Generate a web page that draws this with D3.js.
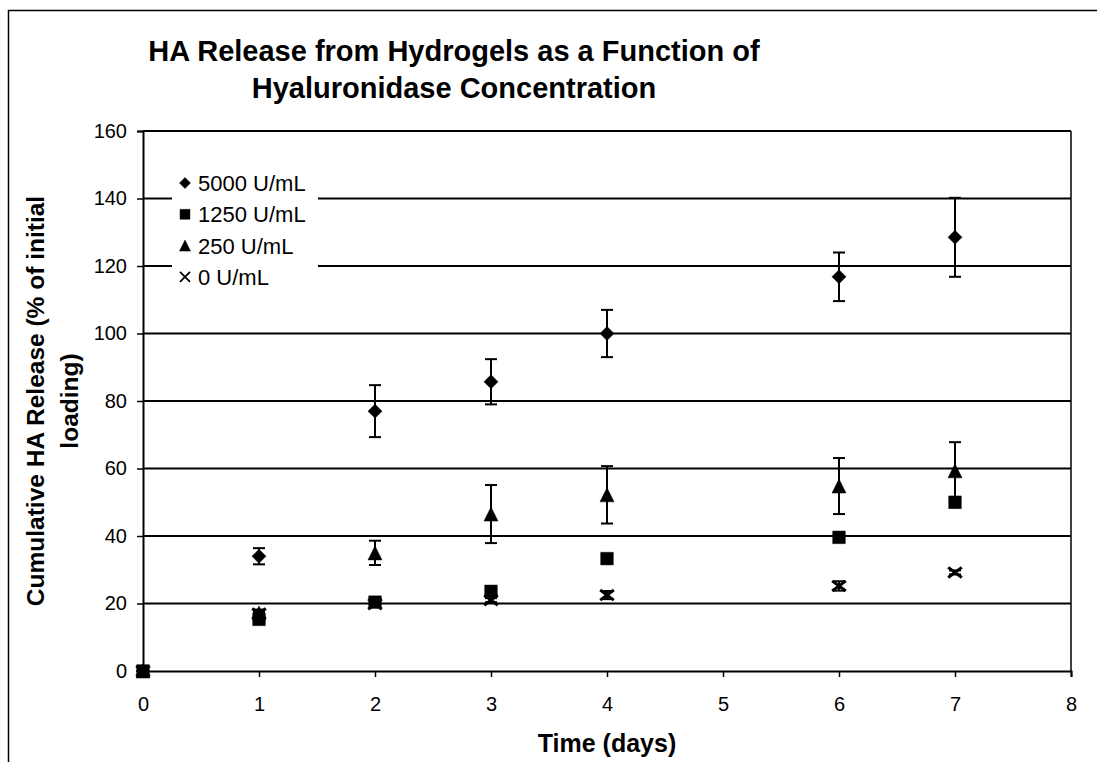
<!DOCTYPE html>
<html>
<head>
<meta charset="utf-8">
<script src="https://cdn.jsdelivr.net/npm/d3@7"></script>
<style>
  html, body { margin: 0; padding: 0; background: #fff; }
  svg { display: block; font-family: "Liberation Sans", Arial, sans-serif; }
</style>
</head>
<body>
<div id="chart"></div>
<script>
const days = [0, 1, 2, 3, 4, 6, 7]

const seriesNames = ["5000 U/mL", "1250 U/mL", "250 U/mL", "0 U/mL"]
const markers = ["diamond", "square", "triangle", "cross"]

const release5000 = [0, 34, 77, 85.7, 100, 116.8, 128.5]
const error5000 = [0, 2.4, 7.7, 6.7, 7, 7.2, 11.7]
const release1250 = [0, 15.3, 20.4, 23.6, 33.3, 39.6, 50]
const error1250 = [0, 1, 1, 1.2, 1, 0.8, 1.5]
const release250 = [0, 17.2, 35, 46.5, 52.2, 54.8, 59.3]
const error250 = [0, 1, 3.6, 8.6, 8.5, 8.3, 8.5]
const release0 = [0, 17, 19.8, 21, 22.5, 25.2, 29.2]
const error0 = [0, 0.5, 0.5, 0.6, 1.2, 1.4, 0.6]

const xTicks = [0, 1, 2, 3, 4, 5, 6, 7, 8]
const yTicks = [0, 20, 40, 60, 80, 100, 120, 140, 160]

const titleLines = ["HA Release from Hydrogels as a Function of", "Hyaluronidase Concentration"]
const xTitle = "Time (days)"
const yTitleLines = ["Cumulative HA Release (% of initial", "loading)"]

const allValues = [release5000, release1250, release250, release0]
const allErrors = [error5000, error1250, error250, error0]

const W = 1097, H = 762
const margin = { left: 143, right: 26, top: 131, bottom: 91 }
const plotW = W - margin.left - margin.right
const plotH = H - margin.top - margin.bottom

const svg = d3.select("#chart").append("svg")
  .attr("width", W)
  .attr("height", H)

// outer frame, cut off at the right and bottom like the scan
svg.append("rect")
  .attr("x", 8.5).attr("y", 10.5)
  .attr("width", 1200).attr("height", 800)
  .attr("fill", "none").attr("stroke", "#000").attr("stroke-width", 1.5)

const x = d3.scaleLinear().domain([0, 8]).range([0, plotW])
const y = d3.scaleLinear().domain([0, 160]).range([plotH, 0])

const g = svg.append("g").attr("transform", `translate(${margin.left},${margin.top})`)

// horizontal gridlines
g.append("g")
  .selectAll("line")
  .data(yTicks.filter(d => d > 0))
  .join("line")
  .attr("x1", 0).attr("x2", plotW)
  .attr("y1", d => y(d)).attr("y2", d => y(d))
  .attr("stroke", "#000").attr("stroke-width", 2)

// right border of the plot area
g.append("line")
  .attr("x1", plotW).attr("x2", plotW)
  .attr("y1", 0).attr("y2", plotH)
  .attr("stroke", "#000").attr("stroke-width", 1.5)

const yAxis = g.append("g")
  .call(d3.axisLeft(y).tickValues(yTicks).tickSize(6).tickPadding(10))
yAxis.select(".domain").attr("stroke-width", 2)
yAxis.selectAll(".tick line").attr("stroke-width", 1.5)
yAxis.selectAll("text")
  .attr("font-size", 20)
  .attr("font-family", "Liberation Sans, Arial, sans-serif")
  .attr("fill", "#000")

const xAxis = g.append("g")
  .attr("transform", `translate(0,${plotH})`)
  .call(d3.axisBottom(x).tickValues(xTicks).tickSize(6).tickPadding(20).tickFormat(d3.format("d")))
xAxis.select(".domain").attr("stroke-width", 2)
xAxis.selectAll(".tick line").attr("stroke-width", 1.5)
xAxis.selectAll("text")
  .attr("font-size", 20)
  .attr("font-family", "Liberation Sans, Arial, sans-serif")
  .attr("fill", "#000")

// marker shapes
function markerPath(type, s) {
  const h = s / 2
  if (type === "diamond") return `M0,${-h}L${h},0L0,${h}L${-h},0Z`
  if (type === "square") return `M${-h * 0.9},${-h * 0.9}H${h * 0.9}V${h * 0.9}H${-h * 0.9}Z`
  if (type === "triangle") return `M0,${-h}L${h},${h}L${-h},${h}Z`
  return `M${-h * 0.8},${-h * 0.6}L${h * 0.8},${h * 0.6}M${-h * 0.8},${h * 0.6}L${h * 0.8},${-h * 0.6}`
}

function drawMarker(sel, type, s, crossWidth) {
  sel.append("path")
    .attr("d", markerPath(type, s))
    .attr("fill", type === "cross" ? "none" : "#000")
    .attr("stroke", "#000")
    .attr("stroke-width", type === "cross" ? crossWidth : 0.5)
}

allValues.forEach((vals, si) => {
  const errs = allErrors[si]
  const sg = g.append("g")
  days.forEach((d, i) => {
    const cx = x(d)
    const e = errs[i]
    if (e > 0) {
      const y1 = y(vals[i] + e), y2 = y(vals[i] - e)
      sg.append("line").attr("x1", cx).attr("x2", cx).attr("y1", y1).attr("y2", y2)
        .attr("stroke", "#000").attr("stroke-width", 2)
      ;[y1, y2].forEach(yy => {
        sg.append("line").attr("x1", cx - 6).attr("x2", cx + 6).attr("y1", yy).attr("y2", yy)
          .attr("stroke", "#000").attr("stroke-width", 2)
      })
    }
    const m = sg.append("g").attr("transform", `translate(${cx},${y(vals[i])})`)
    drawMarker(m, markers[si], markers[si] === "cross" ? 17 : 14, 3)
  })
})

// legend
const legend = svg.append("g").attr("transform", "translate(172,163)")
legend.append("rect").attr("width", 146).attr("height", 130).attr("fill", "#fff")
seriesNames.forEach((name, i) => {
  const row = legend.append("g").attr("transform", `translate(0,${20 + i * 31.3})`)
  const m = row.append("g").attr("transform", "translate(13,0)")
  if (markers[i] === "cross") {
    m.append("path")
      .attr("d", "M-5,-5L5,5M-5,5L5,-5")
      .attr("stroke", "#000").attr("stroke-width", 1.8).attr("fill", "none")
  } else {
    drawMarker(m, markers[i], 11, 0)
  }
  row.append("text")
    .attr("x", 26).attr("dy", "0.36em")
    .attr("font-size", 22)
    .attr("fill", "#000")
    .text(name)
})

// chart title
svg.append("g")
  .selectAll("text")
  .data(titleLines)
  .join("text")
  .attr("x", 454)
  .attr("y", (d, i) => 61 + i * 37)
  .attr("text-anchor", "middle")
  .attr("font-size", 29)
  .attr("font-weight", "bold")
  .text(d => d)

// axis titles
svg.append("text")
  .attr("x", margin.left + plotW / 2)
  .attr("y", 743)
  .attr("dy", "0.36em")
  .attr("text-anchor", "middle")
  .attr("font-size", 25)
  .attr("font-weight", "bold")
  .text(xTitle)

svg.append("g")
  .selectAll("text")
  .data(yTitleLines)
  .join("text")
  .attr("transform", (d, i) => `translate(${35 + i * 34},${margin.top + plotH / 2}) rotate(-90)`)
  .attr("dy", "0.36em")
  .attr("text-anchor", "middle")
  .attr("font-size", 24.5)
  .attr("font-weight", "bold")
  .text(d => d)
</script>
</body>
</html>
